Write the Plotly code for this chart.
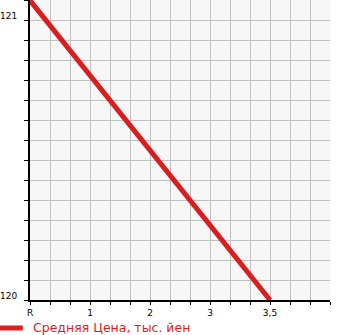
import plotly.graph_objects as go

categories = ["R", "1", "2", "3", "3,5"]
avg_price = [121.07, None, None, None, 120.0]
series_name = "Средняя Цена, тыс. йен"
series_color = "#d81e1e"
y_tick_values = [120, 121]
y_tick_labels = ["120", "121"]

x_pos = list(range(len(categories)))

fig = go.Figure()
fig.add_trace(go.Scatter(
    x=x_pos, y=avg_price, mode="lines", name=series_name,
    connectgaps=True,
    line=dict(color=series_color, width=5),
    showlegend=False,
))

# legend drawn as a swatch + label below the plot
fig.add_shape(type="line", xref="paper", yref="paper",
              x0=-0.1, x1=-0.024, y0=-0.0933, y1=-0.0933,
              line=dict(color=series_color, width=5))
fig.add_annotation(text=series_name, xref="paper", yref="paper",
                   x=0.0033, y=-0.0933, xanchor="left", yanchor="middle",
                   showarrow=False,
                   font=dict(size=12.5, color=series_color, family="DejaVu Sans"))

fig.update_layout(
    width=345, height=335,
    margin=dict(l=30, r=15, t=0, b=35, autoexpand=False),
    paper_bgcolor="white",
    plot_bgcolor="#f7f7f7",
    font=dict(family="DejaVu Sans", size=9, color="black"),
)

fig.update_xaxes(
    range=[0, 5], tickvals=x_pos, ticktext=categories,
    showgrid=True, gridcolor="#c0c0c0", gridwidth=1,
    showline=True, linecolor="black", linewidth=2,
    ticks="outside", ticklen=3, tickcolor="black", tickwidth=1,
    minor=dict(dtick=1/3, tick0=0, showgrid=True, gridcolor="#c0c0c0", gridwidth=1,
               ticks="outside", ticklen=3, tickcolor="black"),
    zeroline=False, layer="below traces", fixedrange=True,
)
fig.update_yaxes(
    range=[120, 121 + 1/14], tickvals=y_tick_values, ticktext=y_tick_labels,
    showgrid=True, gridcolor="#c0c0c0", gridwidth=1,
    showline=True, linecolor="black", linewidth=2,
    ticks="outside", ticklen=4, tickcolor="black", tickwidth=1,
    minor=dict(dtick=1/14, tick0=120, showgrid=True, gridcolor="#c0c0c0", gridwidth=1,
               ticks="outside", ticklen=4, tickcolor="black"),
    zeroline=False, layer="below traces", fixedrange=True,
    ticklabelstandoff=5, ticklabelshift=-4,
)

fig.write_html("out.html", config={"displayModeBar": False})
